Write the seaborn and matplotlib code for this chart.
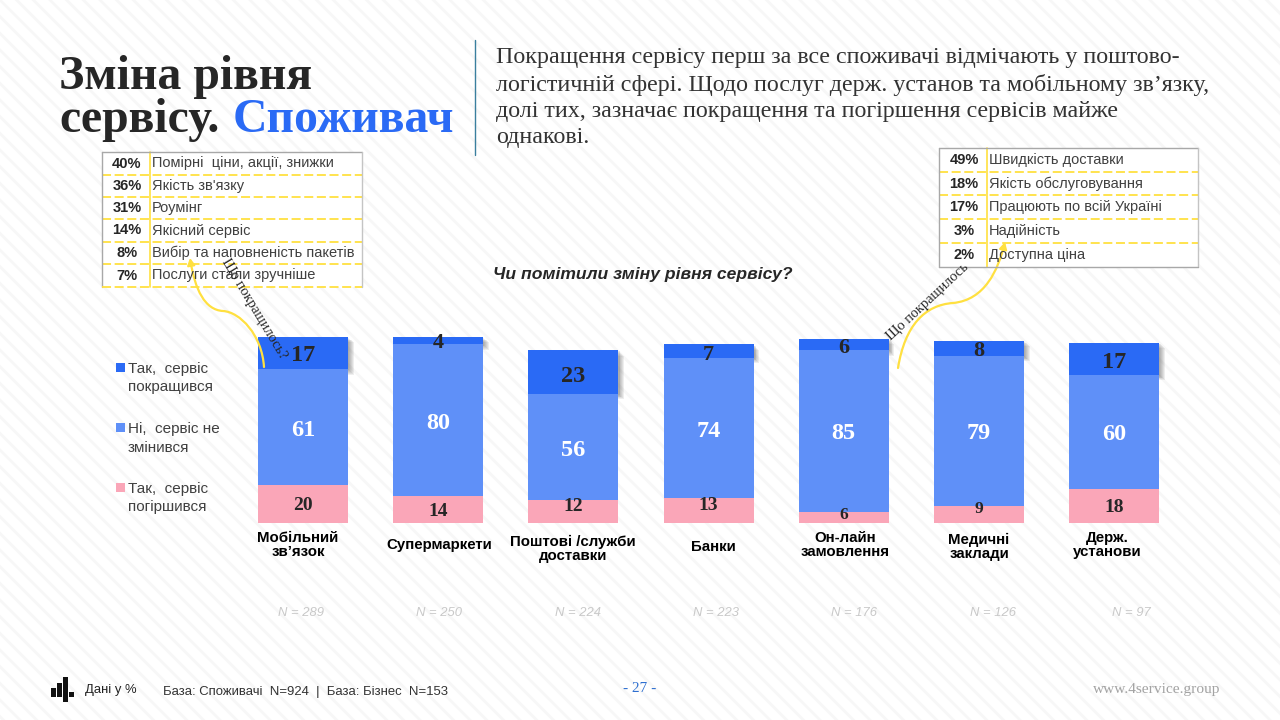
import numpy as np
import pandas as pd
import seaborn as sns
import matplotlib.pyplot as plt
from matplotlib.patches import Rectangle, FancyArrowPatch
from matplotlib.path import Path
import matplotlib.patheffects as pe

categories = ['Мобільний\nзв’язок', 'Супермаркети', 'Поштові /служби\nдоставки', 'Банки',
              'Он-лайн\nзамовлення', 'Медичні\nзаклади', 'Держ.\nустанови']
better = [17, 4, 23, 7, 6, 8, 17]
same = [61, 80, 56, 74, 85, 79, 60]
worse = [20, 14, 12, 13, 6, 9, 18]
base_n = ['N = 289', 'N = 250', 'N = 224', 'N = 223', 'N = 176', 'N = 126', 'N = 97']

table_left_pct = ['40%', '36%', '31%', '14%', '8%', '7%']
table_left_txt = ['Помірні  ціни, акції, знижки', 'Якість зв\'язку', 'Роумінг', 'Якісний сервіс',
                  'Вибір та наповненість пакетів', 'Послуги стали зручніше']
table_right_pct = ['49%', '18%', '17%', '3%', '2%']
table_right_txt = ['Швидкість доставки', 'Якість обслуговування', 'Працюють по всій Україні',
                   'Надійність', 'Доступна ціна']

DARK = '#2A6AF5'
MID = '#5F90F8'
PINK = '#FAA6B8'
YELLOW = '#FFE040'
INK = '#262626'
SERIF = 'Liberation Serif'
SANS = 'Liberation Sans'

sns.set_theme(style='white')
plt.rcParams['font.family'] = [SANS, 'DejaVu Sans']
plt.rcParams['hatch.linewidth'] = 2.0
plt.rcParams['hatch.color'] = '#f7f7f7'

fig = plt.figure(figsize=(12.8, 7.2), dpi=100, facecolor='white')

# striped slide background
bg = fig.add_axes([0, 0, 1, 1], zorder=0)
bg.set_xlim(0, 1280); bg.set_ylim(720, 0); bg.axis('off')
bg.add_patch(Rectangle((0, 0), 1280, 720, facecolor='white', edgecolor='#f7f7f7', hatch='\\\\', lw=0))

# bars, axes spans whole slide so 1 unit = 1.9 px and 0 sits at y=523
ax = fig.add_axes([0, 0, 1, 1], zorder=1)
ax.patch.set_alpha(0)
df = pd.DataFrame({'cat': categories, 'better': better, 'same': same, 'worse': worse})
low = np.array(worse)
midtop = low + np.array(same)
bw = 90 / 135.2
# dark segments first so their shadow stays behind the lighter ones
sns.barplot(data=df, x='cat', y='better', color=DARK, saturation=1, width=bw, bottom=midtop, linewidth=0, ax=ax)
sns.barplot(data=df, x='cat', y='same', color=MID, saturation=1, width=bw, bottom=low, linewidth=0, ax=ax)
sns.barplot(data=df, x='cat', y='worse', color=PINK, saturation=1, width=bw, linewidth=0, ax=ax)
for p in ax.containers[0]:
    p.set_path_effects([pe.SimplePatchShadow(offset=(o, -o), shadow_rgbFace='#444444', alpha=0.09)
                        for o in (4, 3.3, 2.6, 2, 1.4, 0.8)] + [pe.Normal()])
ax.set_xlim(-303 / 135.2, (1280 - 303) / 135.2)
ax.set_ylim(-(720 - 523) / 1.9, 523 / 1.9)
ax.axis('off')

# labels; some sit off-centre in the original (offsets in px)
better_nudge = [-1, -1, 1, 1, 1, 0, 1]
worse_nudge = [0, 0, -7, -7, -4, -7, 0]
for i in range(len(categories)):
    ax.annotate(str(better[i]), (i, midtop[i] + better[i] / 2), xytext=(0, -better_nudge[i] * 0.72 - 2.2),
                textcoords='offset points', ha='center', va='center', family=SERIF, weight='bold',
                fontsize=17.5 if better[i] > 10 else 16, color=INK)
    ax.annotate(str(same[i]), (i, low[i] + same[i] / 2), xytext=(0, -2.2),
                textcoords='offset points', ha='center', va='center', family=SERIF, weight='bold',
                fontsize=17.5, color='white')
    ax.annotate(str(worse[i]), (i, worse[i] / 2), xytext=(0, -worse_nudge[i] * 0.72 - 1.4),
                textcoords='offset points', ha='center', va='center', family=SERIF, weight='bold',
                fontsize=14 if worse[i] > 9 else 12.5, color=INK)

# everything else is placed in slide pixels
over = fig.add_axes([0, 0, 1, 1], zorder=2)
over.set_xlim(0, 1280); over.set_ylim(720, 0); over.axis('off'); over.patch.set_alpha(0)


def px_text(x, y, s, size, color='#404040', family=SANS, **kw):
    kw.setdefault('va', 'center')
    return over.text(x, y, s, fontsize=size, color=color, family=family, **kw)


# title block
px_text(59, 77, 'Зміна рівня', 34.4, INK, SERIF, weight='bold')
px_text(59, 120, 'сервісу.', 34.4, INK, SERIF, weight='bold')
px_text(233, 120, 'Споживач', 34.4, DARK, SERIF, weight='bold')
over.plot([475, 475], [40, 155], color='#3A7F9E', lw=1)
lead = ['Покращення сервісу перш за все споживачі відмічають у поштово-',
        'логістичній сфері. Щодо послуг держ. установ та мобільному зв’язку,',
        'долі тих, зазначає покращення та погіршення сервісів майже',
        'однакові.']
for y, line in zip([58, 85, 111, 138], lead):
    px_text(496, y, line, 17.3, '#333333', SERIF)

px_text(643, 274, 'Чи помітили зміну рівня сервісу?', 12.6, INK, ha='center', weight='bold', style='italic')

# legend
for y, col, a, b in [(367.5, DARK, 'Так,  сервіс', 'покращився'),
                     (427.5, MID, 'Ні,  сервіс не', 'змінився'),
                     (487, PINK, 'Так,  сервіс', 'погіршився')]:
    over.add_patch(Rectangle((116, y - 4.5), 8.5, 9, facecolor=col, lw=0))
    px_text(128, y + 2, a, 11)
    px_text(128, y + 20, b, 11)

# category names and base sizes
cat_x = [298, 439, 573, 713, 845, 979, 1107]
cat_y = [545, 545, 549, 547, 545, 547, 545]
for x, y, s in zip(cat_x, cat_y, categories):
    px_text(x, y, s, 10.8, 'black', ha='center', weight='bold', linespacing=0.95)
n_x = [301, 439, 578, 716, 854, 993, 1131]
for x, s in zip(n_x, base_n):
    px_text(x, 613, s, 9.4, '#c9c9c9', ha='center', style='italic')


def draw_table(left, right, lines, split, pcts, txts, bottom_grey):
    top = lines[0]; bot = lines[-1]
    over.add_patch(Rectangle((left, top), right - left, bot - top, facecolor='white', lw=0))
    for y in lines[1:-1]:
        over.plot([left, right], [y, y], color=YELLOW, lw=1.3, ls=(0, (5, 2)))
    over.plot([split, split], [top, bot], color=YELLOW, lw=1.2)
    over.plot([left, right], [top, top], color='#a8a8a8', lw=1)
    over.plot([left, left], [top, bot], color='#a8a8a8', lw=1)
    over.plot([right, right], [top, bot], color='#c4c4c4', lw=1)
    if bottom_grey:
        over.plot([left, right], [bot, bot], color='#a8a8a8', lw=1)
    else:
        over.plot([left, right], [bot, bot], color=YELLOW, lw=1.3, ls=(0, (5, 2)))
    for i in range(len(pcts)):
        yc = (lines[i] + lines[i + 1]) / 2
        px_text((left + split) / 2 + 1, yc, pcts[i], 10.5, INK, ha='center', weight='bold')
        px_text(split + 2, yc, txts[i], 10.5, '#404040')


draw_table(102, 362, [152, 175, 197, 219, 242, 264, 287], 150, table_left_pct, table_left_txt, False)
draw_table(939, 1198, [148, 172, 195, 219, 243, 267], 987, table_right_pct, table_right_txt, True)

# yellow arrows
arrow_left = Path([(264, 367), (262, 335), (240, 312), (223, 311), (205, 310), (195, 290), (190, 258)],
                  [Path.MOVETO] + [Path.CURVE4] * 6)
arrow_right = Path([(898, 368), (905, 325), (925, 305), (953, 303), (985, 300), (998, 270), (1005, 242)],
                   [Path.MOVETO] + [Path.CURVE4] * 6)
for path in (arrow_left, arrow_right):
    over.add_patch(FancyArrowPatch(path=path, arrowstyle='-|>,head_length=4,head_width=2.2', color=YELLOW,
                                   lw=1.6, shrinkA=0, shrinkB=0))
px_text(254, 309, 'Що покращилось?', 10.5, INK, SERIF, rotation=-59, ha='center', rotation_mode='anchor')
px_text(928, 302, 'Що покращилось', 10.4, INK, SERIF, rotation=43, ha='center', rotation_mode='anchor')

# footer
for x, y0, y1 in [(51, 688, 697), (57, 683, 697), (63, 677, 702), (69, 692, 697)]:
    over.add_patch(Rectangle((x, y0), 5, y1 - y0, facecolor='#111111', lw=0))
px_text(85, 690, 'Дані у %', 9.4, '#222222')
px_text(163, 692, 'База: Споживачі  N=924  |  База: Бізнес  N=153', 9.45, '#333333')
px_text(640, 688, '- 27 -', 11, '#2E6FD0', SERIF, ha='center')
px_text(1220, 690, 'www.4service.group', 11.1, '#a3a3a3', SERIF, ha='right')

fig.savefig('out.png', dpi=100)
